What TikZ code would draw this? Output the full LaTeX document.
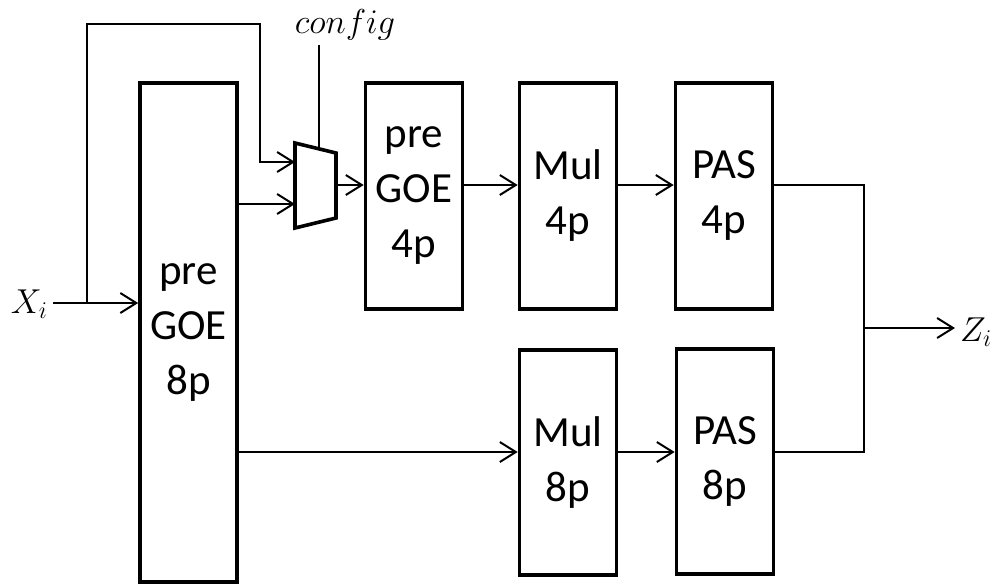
\documentclass[tikz,border=0pt]{standalone}
\usepackage{fontspec}
\setmainfont{Carlito}
\usetikzlibrary{arrows.meta}

\begin{document}
\begin{tikzpicture}[x=0.5pt, y=-0.5pt, line width=1pt,
    >={Straight Barb[length=8pt, width=10pt]},
    block/.style={draw, line width=1.8pt, minimum width=48.5pt, align=center,
        font=\fontsize{21.5}{27.5}\selectfont},
    muxline/.style={line width=1.8pt, line join=miter},
    sig/.style={inner sep=2pt, font=\fontsize{18}{22}\selectfont}]

    \useasboundingbox (0, 0) rectangle (1008, 586);

    % Blocks
    \node[block, minimum height=249.5pt] (pre8) at (188.5, 332.5) {pre\\GOE\\8p};
    \node[block, minimum height=113pt] (pre4) at (414, 196) {pre\\GOE\\4p};
    \node[block, minimum height=113pt] (mul4) at (568, 196) {Mul\\4p};
    \node[block, minimum height=113pt] (pas4) at (724, 196) {PAS\\4p};
    \node[block, minimum height=112.5pt] (mul8) at (568, 462.5) {Mul\\8p};
    \node[block, minimum height=112.5pt] (pas8) at (725, 461.5) {PAS\\8p};

    % Mux
    \coordinate (mux-nw) at (295, 143);
    \coordinate (mux-ne) at (336, 153);
    \coordinate (mux-se) at (336, 218);
    \coordinate (mux-sw) at (295, 228);
    \draw[muxline] (mux-nw) -- (mux-ne) -- (mux-se) -- (mux-sw) -- cycle;
    \coordinate (in1) at (295, 162);
    \coordinate (in2) at (295, 204);
    \coordinate (mux-out) at (336, 185);
    \coordinate (mux-sel) at (319, 149);

    % Signals
    \node[sig, anchor=base east] (xi) at (53, 313) {$X_i$};
    \node[sig, anchor=base west] (zi) at (955, 341) {$Z_i$};
    \node[sig, anchor=base] (cfg) at (345, 33) {$config$};

    % Helper points
    \coordinate (br) at (87, 303);
    \coordinate (fb) at (260, 24);
    \coordinate (sel) at (319, 45);
    \coordinate (row8) at (400, 452);
    \coordinate (jn) at (864, 328);

    % Input and bypass
    \draw[->] (xi.east |- br) -- (pre8.west |- br);
    \draw[->] (br) |- (fb) |- (in1);
    \draw[->] (pre8.east |- in2) -- (in2);
    \draw (sel) -- (mux-sel);

    % 4p row
    \draw[->] (mux-out) -- (pre4.west |- mux-out);
    \draw[->] (pre4.east |- mux-out) -- (mul4.west |- mux-out);
    \draw[->] (mul4.east |- mux-out) -- (pas4.west |- mux-out);

    % 8p row
    \draw[->] (pre8.east |- row8) -- (mul8.west |- row8);
    \draw[->] (mul8.east |- row8) -- (pas8.west |- row8);

    % Output
    \draw (pas4.east |- mux-out) -| (jn);
    \draw (pas8.east |- row8) -| (jn);
    \draw[->] (jn) -- (zi.west |- jn);
\end{tikzpicture}
\end{document}
